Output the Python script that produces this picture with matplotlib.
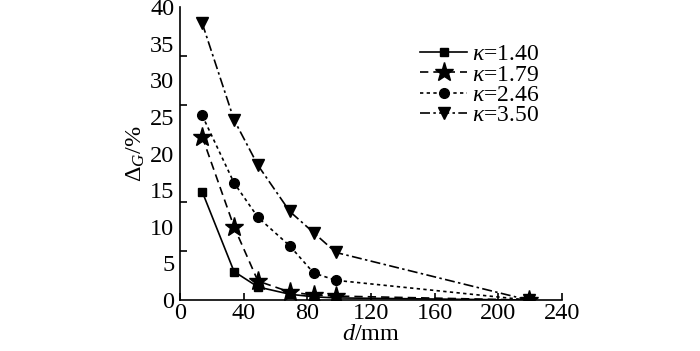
import matplotlib.pyplot as plt
import numpy as np

plt.rcParams['font.family'] = 'Liberation Serif'
plt.rcParams['mathtext.fontset'] = 'custom'
plt.rcParams['mathtext.rm'] = 'Liberation Serif'
plt.rcParams['mathtext.it'] = 'Liberation Serif:italic'

d = [14, 34, 49, 69, 84, 98, 219]
k140 = [14.8, 3.9, 1.8, 0.8, 0.45, 0.3, 0.0]
k179 = [22.3, 10.0, 2.6, 1.1, 0.7, 0.55, 0.0]
k246 = [25.2, 16.0, 11.3, 7.4, 3.7, 2.7, 0.0]
k350 = [37.8, 24.6, 18.4, 12.1, 9.2, 6.5, 0.0]
labels = [r'$\kappa$=1.40', r'$\kappa$=1.79', r'$\kappa$=2.46', r'$\kappa$=3.50']

fig = plt.figure(figsize=(7, 3.51), dpi=100)
ax = fig.add_axes([0.257, 0.145, 0.546, 0.835])

ax.plot(d, k140, color='black', ls='-', lw=1.2, marker='s', ms=6, label=labels[0])
ax.plot(d, k179, color='black', ls=(0, (5, 3)), lw=1.2, marker='*', ms=14, label=labels[1])
ax.plot(d, k246, color='black', ls=(0, (2, 2)), lw=1.2, marker='o', ms=7, label=labels[2])
ax.plot(d, k350, color='black', ls=(0, (6, 2, 1.5, 2)), lw=1.2, marker='v', ms=9, label=labels[3])

ax.set_xlim(0, 240)
ax.set_ylim(0, 40)
ax.set_xticks(np.arange(0, 241, 40))
ax.set_yticks(np.arange(0, 41, 5))
ax.set_yticks(np.linspace(0, 40, 7), minor=True)
ax.tick_params(axis='x', direction='in', length=5, width=1.2, labelsize=17.5, pad=2)
ax.tick_params(axis='y', which='major', length=0, labelsize=17.5, pad=4)
ax.tick_params(axis='y', which='minor', direction='in', length=5, width=1.2)
for s in ['top', 'right']:
    ax.spines[s].set_visible(False)
for s in ['left', 'bottom']:
    ax.spines[s].set_linewidth(1.2)

ax.set_xlabel(r'$d$/mm', fontsize=17.5, labelpad=0)
ax.set_ylabel(r'$\Delta_G$/%', fontsize=17.5, labelpad=2)

fig.legend(loc='upper left', bbox_to_anchor=(0.6, 0.875), frameon=False,
           fontsize=17, handlelength=2.0, handletextpad=0.2, labelspacing=-0.05,
           borderpad=0, borderaxespad=0)

fig.savefig('out.png', dpi=100)
